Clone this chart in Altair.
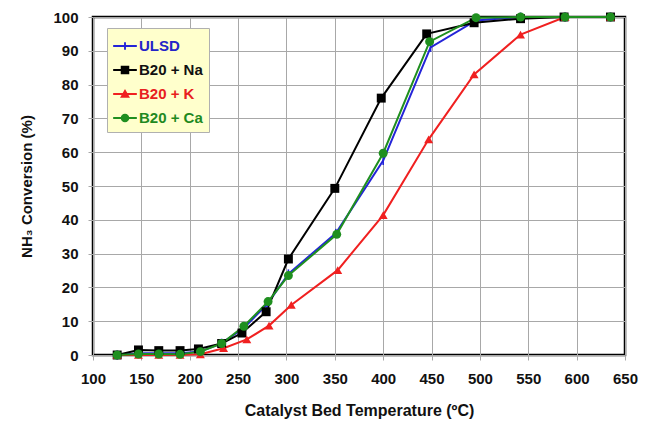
import altair as alt
import pandas as pd

series_names = ["ULSD", "B20 + Na", "B20 + K", "B20 + Ca"]
series_colors = ["#2424d8", "#000000", "#f02020", "#1f8f1f"]

ulsd_t = [125, 147, 168, 190, 211, 233, 256, 280, 302, 351, 400, 449, 496, 542, 588, 635]
ulsd_v = [0, 0.5, 0.5, 0.5, 1, 3.5, 8, 15, 24, 36, 57.5, 91, 99, 100, 100, 100]

na_t = [125, 147, 168, 190, 209, 233, 254, 279, 302, 350, 398, 445, 494, 542, 587, 635]
na_v = [0, 1.5, 1.3, 1.3, 1.8, 3.4, 6.5, 12.8, 28.4, 49.3, 76, 95, 98.3, 99.5, 100, 100]

k_t = [125, 147, 168, 190, 211, 235, 259, 282, 305, 353, 400, 447, 494, 542, 588, 635]
k_v = [0, 0, 0, 0, 0.2, 2, 4.6, 8.7, 14.8, 25.1, 41.4, 63.8, 83, 94.8, 100, 100]

ca_t = [125, 147, 168, 190, 211, 233, 256, 281, 302, 352, 400, 448, 496, 542, 588, 635]
ca_v = [0, 0.3, 0.3, 0.2, 1, 3.4, 8.5, 15.8, 23.5, 35.7, 59.7, 92.7, 99.8, 100, 100, 100]

rows = []
for name, ts, vs in zip(series_names, [ulsd_t, na_t, k_t, ca_t], [ulsd_v, na_v, k_v, ca_v]):
    for t, v in zip(ts, vs):
        rows.append({"series": name, "temp": t, "conv": v})
df = pd.DataFrame(rows)

FONT = "Liberation Sans"

marker_shapes = [
    "M-0.18,-1H0.18V1H-0.18Z",
    "square",
    "triangle-up",
    "circle",
]
line_part = "M-1,-0.09H1V0.09H-1Z"
legend_shapes = [
    line_part + "M-0.08,-0.32H0.08V0.32H-0.08Z",
    line_part + "M-0.36,-0.36H0.36V0.36H-0.36Z",
    line_part + "M0,-0.42L0.42,0.32H-0.42Z",
    line_part + "M-0.36,0A0.36,0.36 0 1,1 0.36,0A0.36,0.36 0 1,1 -0.36,0Z",
]

color_scale = alt.Scale(domain=series_names, range=series_colors)

x_enc = alt.X(
    "temp:Q",
    scale=alt.Scale(domain=[100, 650], nice=False, zero=False),
    axis=alt.Axis(
        values=list(range(100, 651, 50)),
        title="Catalyst Bed Temperature (ºC)",
    ),
)
y_enc = alt.Y(
    "conv:Q",
    scale=alt.Scale(domain=[0, 100], nice=False),
    axis=alt.Axis(values=list(range(0, 101, 10)), title="NH₃ Conversion (%)"),
)

base = alt.Chart(df)

lines = base.mark_line(strokeWidth=2).encode(
    x=x_enc,
    y=y_enc,
    color=alt.Color("series:N", scale=color_scale, legend=None),
    detail="series:N",
    order=alt.Order("temp:Q"),
)

points = base.mark_point(filled=True, opacity=1).encode(
    x=x_enc,
    y=y_enc,
    color=alt.Color("series:N", scale=color_scale, legend=None),
    shape=alt.Shape("series:N", scale=alt.Scale(domain=series_names, range=marker_shapes), legend=None),
    size=alt.value(80),
)

label_expr = (
    "datum.label == 'ULSD' ? '#2424c8' : datum.label == 'B20 + Na' ? '#111111' : "
    "datum.label == 'B20 + K' ? '#e82020' : '#1f8a1f'"
)

legend = alt.Legend(
    title=None,
    orient="none",
    legendX=14,
    legendY=11,
    fillColor="#ffffcc",
    strokeColor="#b0b0b0",
    padding=6,
    rowPadding=4,
    symbolSize=560,
    symbolOpacity=1,
    symbolStrokeWidth=0,
    labelFont=FONT,
    labelFontSize=15,
    labelFontWeight="bold",
    labelOffset=2,
    labelColor=alt.ExprRef(expr=label_expr),
)

legend_layer = base.mark_point(filled=True, opacity=0).encode(
    x=x_enc,
    y=y_enc,
    color=alt.Color("series:N", scale=color_scale, legend=legend),
    shape=alt.Shape("series:N", scale=alt.Scale(domain=series_names, range=legend_shapes), legend=legend),
)

chart = (
    alt.layer(lines, points, legend_layer)
    .resolve_scale(shape="independent")
    .resolve_legend(color="independent", shape="independent")
    .properties(
        width=532,
        height=338,
        autosize=alt.AutoSizeParams(type="none"),
        padding={"left": 93, "top": 17, "right": 29, "bottom": 68},
        background="white",
    )
    .configure_view(stroke="black", strokeWidth=2.5)
    .configure_axis(
        grid=True,
        gridColor="#a8a8a8",
        gridWidth=1,
        domain=False,
        tickColor="#a8a8a8",
        tickSize=5,
        labelFlush=False,
        labelFont=FONT,
        labelFontSize=15,
        labelFontWeight="bold",
        labelColor="#111111",
        titleFont=FONT,
        titleFontWeight="bold",
        titleColor="#111111",
    )
    .configure_axisX(labelPadding=11, titleFontSize=16, titlePadding=16)
    .configure_axisY(labelPadding=10, titleFontSize=15, titlePadding=18)
)

chart.save("out.html", embed_options={"renderer": "svg", "actions": False})
